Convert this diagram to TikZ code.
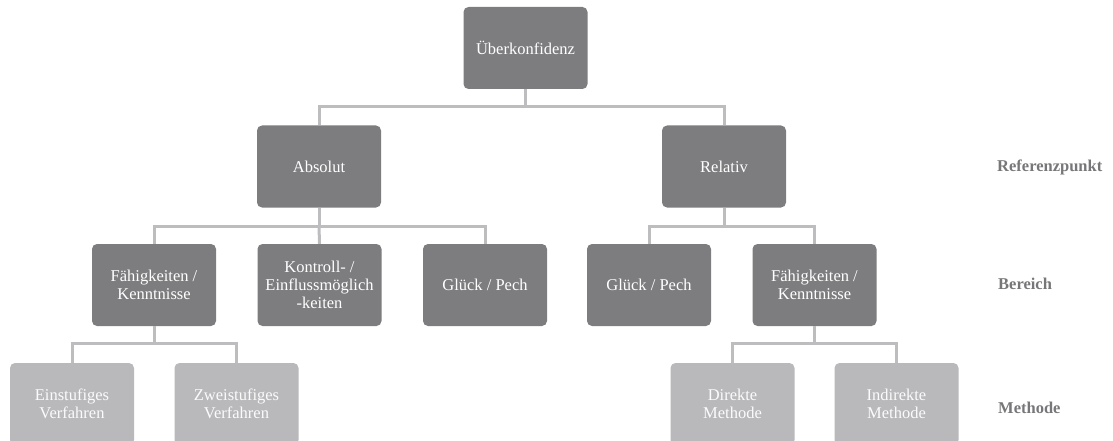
\documentclass[tikz,border=0pt]{standalone}
\usepackage{fontspec}
\setmainfont{Liberation Serif}
\definecolor{darkbox}{HTML}{7D7D80}
\definecolor{lightbox}{HTML}{B9B9BC}
\definecolor{linecol}{HTML}{BDBDC0}
\definecolor{labcol}{HTML}{77777A}
\tikzset{
  box/.style={rectangle, rounded corners=5pt, minimum width=124pt, minimum height=82pt,
    inner sep=2pt, align=center, text=white, font=\fontsize{16.5}{18}\selectfont},
  darkb/.style={box, fill=darkbox},
  lightb/.style={box, fill=lightbox, text=white!97!gray},
  conn/.style={draw=linecol, line width=3pt},
  lab/.style={anchor=west, text=labcol, font=\fontsize{16.5}{18}\selectfont\bfseries, inner sep=0pt}
}
\begin{document}
\begin{tikzpicture}[x=1pt,y=1pt]
\useasboundingbox (0,0) rectangle (1113,-441);
\clip (0,0) rectangle (1113,-441);
% nodes
\node[darkb] (top) at (525.5,-48) {Überkonfidenz};
\node[darkb] (abs) at (319,-166.5) {Absolut};
\node[darkb] (rel) at (724,-166.5) {Relativ};
\node[darkb] (f1) at (154,-285) {Fähigkeiten /\\Kenntnisse};
\node[darkb] (k1) at (319.5,-285) {Kontroll- /\\Einflussmöglich\\-keiten};
\node[darkb] (g1) at (485,-285) {Glück / Pech};
\node[darkb] (g2) at (649,-285) {Glück / Pech};
\node[darkb] (f2) at (814.5,-285) {Fähigkeiten /\\Kenntnisse};
\node[lightb] (e1) at (72,-404) {Einstufiges\\Verfahren};
\node[lightb] (z1) at (236.5,-404) {Zweistufiges\\Verfahren};
\node[lightb] (d2) at (732.5,-404) {Direkte\\Methode};
\node[lightb] (i2) at (896.5,-404) {Indirekte\\Methode};
% labels
\node[lab] (l1) at (997,-167) {Referenzpunkt};
\node[lab] (l2) at (998,-284) {Bereich};
\node[lab] (l3) at (998,-408) {Methode};
% connectors
\coordinate (b1) at (525.5,-107);
\coordinate (b2) at (319,-226);
\coordinate (b3) at (724,-226);
\coordinate (b4) at (154,-343);
\coordinate (b5) at (814.5,-343);
\draw[conn] (top.south) -- (b1);
\draw[conn] (b1) -| (abs.north);
\draw[conn] (b1) -| (rel.north);
\draw[conn] (abs.south) -- (b2);
\draw[conn] (b2) -| (f1.north);
\draw[conn] (b2) -- (k1.north);
\draw[conn] (b2) -| (g1.north);
\draw[conn] (rel.south) -- (b3);
\draw[conn] (b3) -| (g2.north);
\draw[conn] (b3) -| (f2.north);
\draw[conn] (f1.south) -- (b4);
\draw[conn] (b4) -| (e1.north);
\draw[conn] (b4) -| (z1.north);
\draw[conn] (f2.south) -- (b5);
\draw[conn] (b5) -| (d2.north);
\draw[conn] (b5) -| (i2.north);
\end{tikzpicture}
\end{document}
